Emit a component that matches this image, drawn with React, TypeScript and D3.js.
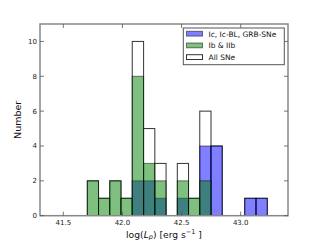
import React from "react";
import * as d3 from "d3";

const binEdges = [41.703, 41.798, 41.893, 41.988, 42.083, 42.179, 42.274, 42.369, 42.464, 42.559, 42.654, 42.749, 42.844, 42.939, 43.034, 43.13, 43.225];
const allSNe = [2, 1, 2, 1, 10, 5, 3, 0, 3, 1, 6, 4, 0, 0, 1, 1];
const icSNe = [0, 0, 0, 0, 2, 2, 1, 0, 1, 0, 4, 4, 0, 0, 1, 1];
const ibSNe = [2, 1, 2, 1, 8, 3, 2, 0, 2, 1, 2, 0, 0, 0, 0, 0];
const xTicks = [41.5, 42.0, 42.5, 43.0];
const yTicks = [0, 2, 4, 6, 8, 10];
const legendLabels = ["Ic, Ic-BL, GRB-SNe", "Ib & IIb", "All SNe"];

const W = 320, H = 240;
const m = { left: 40, right: 288, top: 24, bottom: 215.7 };
const font = "DejaVu Sans, sans-serif";

export default function App() {
  const x = d3.scaleLinear().domain([41.303, 43.4]).range([m.left, m.right]);
  const y = d3.scaleLinear().domain([0, 11]).range([m.bottom, m.top]);
  const bars = (vals: number[], fill: string, stroke: string, key: string) =>
    vals.map((v, i) =>
      v > 0 ? (
        <rect
          key={key + i}
          x={x(binEdges[i])}
          y={y(v)}
          width={x(binEdges[i + 1]) - x(binEdges[i])}
          height={y(0) - y(v)}
          fill={fill}
          stroke={stroke}
          strokeWidth={1}
        />
      ) : null
    );
  const legendColors = [
    { fill: "rgba(0,0,255,0.5)", stroke: "rgba(0,0,0,0.5)" },
    { fill: "rgba(0,128,0,0.5)", stroke: "rgba(0,0,0,0.5)" },
    { fill: "#fff", stroke: "#333" },
  ];
  return (
    <svg width={W} height={H} style={{ position: "absolute", left: 0, top: 0 }} fontFamily={font}>
      <rect x={0} y={0} width={W} height={H} fill="#fff" />
      <clipPath id="clip">
        <rect x={m.left} y={m.top} width={m.right - m.left} height={m.bottom - m.top} />
      </clipPath>
      <g clipPath="url(#clip)">
        {bars(allSNe, "#fff", "#333", "a")}
        {bars(icSNe, "rgba(0,0,255,0.5)", "rgba(0,0,0,0.5)", "b")}
        {bars(ibSNe, "rgba(0,128,0,0.5)", "rgba(0,0,0,0.5)", "g")}
      </g>
      <rect x={m.left} y={m.top} width={m.right - m.left} height={m.bottom - m.top} fill="none" stroke="#888" strokeWidth={1.5} />
      {xTicks.map((t) => (
        <g key={"xt" + t}>
          <line x1={x(t)} x2={x(t)} y1={m.bottom} y2={m.bottom - 4} stroke="#555" strokeWidth={0.8} />
          <line x1={x(t)} x2={x(t)} y1={m.top} y2={m.top + 4} stroke="#555" strokeWidth={0.8} />
          <text x={x(t)} y={m.bottom + 9} fontSize={7} textAnchor="middle" fill="#222">
            {t.toFixed(1)}
          </text>
        </g>
      ))}
      {yTicks.map((t) => (
        <g key={"yt" + t}>
          <line x1={m.left} x2={m.left + 4} y1={y(t)} y2={y(t)} stroke="#555" strokeWidth={0.8} />
          <line x1={m.right} x2={m.right - 4} y1={y(t)} y2={y(t)} stroke="#555" strokeWidth={0.8} />
          <text x={m.left - 3} y={y(t) + 2.5} fontSize={7} textAnchor="end" fill="#222">
            {t}
          </text>
        </g>
      ))}
      <text x={164} y={237.5} fontSize={9.2} textAnchor="middle" fill="#111">
        log(<tspan fontStyle="italic">L</tspan>
        <tspan fontSize={6.5} dy={1.8} fontStyle="italic">p</tspan>
        <tspan dy={-1.8}>) [erg s</tspan>
        <tspan fontSize={6.5} dy={-3.5}>−1</tspan>
        <tspan dy={3.5}> ]</tspan>
      </text>
      <text transform={`translate(21,${(m.top + m.bottom) / 2}) rotate(-90)`} fontSize={9.5} textAnchor="middle" fill="#111">
        Number
      </text>
      <g>
        <rect x={183.3} y={28} width={101} height={36.7} fill="#fff" stroke="#555" strokeWidth={1} />
        {legendLabels.map((l, i) => (
          <g key={l}>
            <rect x={186.5} y={31.3 + i * 11.7} width={16} height={4.8} fill={legendColors[i].fill} stroke={legendColors[i].stroke} strokeWidth={1} />
            <text x={208.5} y={36.5 + i * 11.7} fontSize={7.5} fill="#111">
              {l}
            </text>
          </g>
        ))}
      </g>
    </svg>
  );
}
